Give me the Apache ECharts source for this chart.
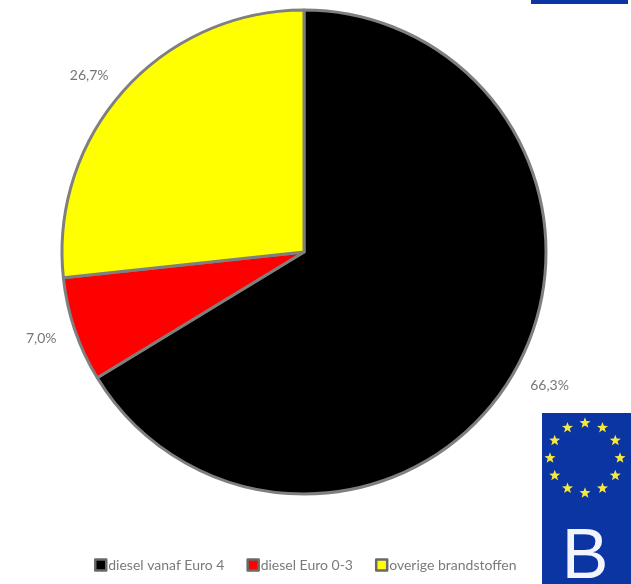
<!DOCTYPE html>
<html>
<head>
<meta charset="utf-8">
<style>html,body{margin:0;padding:0;background:#fff}#c{width:631px;height:584px}</style>
<script src="https://cdn.jsdelivr.net/npm/echarts@6/dist/echarts.min.js"></script>
</head>
<body>
<div id="c"></div>
<script>
// Share of vehicle kilometres by fuel class
const categories = ['diesel vanaf Euro 4', 'diesel Euro 0-3', 'overige brandstoffen'];
const shares = [66.3, 7.0, 26.7];
const sliceColors = ['#000000', '#ff0000', '#ffff00'];
const countryCode = 'B';

const BLUE = '#0a35a3';
const STAR = '#f6e83c';
const chart = echarts.init(document.getElementById('c'), null, { renderer: 'canvas' });

// Small nudges that keep each percentage clear of the pie edge
const labelNudge = [[-2, 8], [0, 4], [0, -5]];

// Five-pointed star outline around a centre point
function starPoints(cx, cy, r, r0) {
  const pts = [];
  for (let k = 0; k < 10; k++) {
    const rad = k % 2 ? r0 : r;
    const t = k * Math.PI / 5;
    pts.push([cx + rad * Math.sin(t), cy - rad * Math.cos(t)]);
  }
  return pts;
}

// Ring of twelve stars on the Euro plate
const stars = [];
for (let i = 0; i < 12; i++) {
  const a = i * Math.PI / 6;
  stars.push({
    type: 'polygon',
    shape: { points: starPoints(585 + 35 * Math.sin(a), 458 - 35 * Math.cos(a), 5.8, 2.4) },
    style: { fill: STAR },
    z: 11
  });
}

chart.setOption({
  animation: false,
  backgroundColor: '#ffffff',
  textStyle: { fontFamily: 'Lato' },
  legend: {
    left: 94,
    top: 558,
    padding: 0,
    itemWidth: 11,
    itemHeight: 11,
    itemGap: 22,
    icon: 'rect',
    selectedMode: false,
    itemStyle: { borderColor: '#6a6a6a', borderWidth: 2.5 },
    textStyle: { color: '#7a7a7a', fontSize: 14, fontFamily: 'Lato', padding: [0, 0, 0, -3] },
    data: categories
  },
  series: [{
    type: 'pie',
    center: [304, 252],
    radius: [0, 242],
    startAngle: 90,
    clockwise: true,
    avoidLabelOverlap: false,
    silent: true,
    itemStyle: { borderColor: '#7f7f7f', borderWidth: 3 },
    label: {
      show: true,
      position: 'outside',
      color: '#767676',
      fontSize: 14,
      fontFamily: 'Lato',
      formatter: p => p.value.toFixed(1).replace('.', ',') + '%'
    },
    labelLine: { show: false, length: 14, length2: 0 },
    labelLayout: p => ({ dx: labelNudge[p.dataIndex][0], dy: labelNudge[p.dataIndex][1] }),
    data: categories.map((name, i) => ({
      name,
      value: shares[i],
      itemStyle: { color: sliceColors[i] }
    }))
  }],
  graphic: [
    { type: 'rect', shape: { x: 531, y: 0, width: 97, height: 4 }, style: { fill: BLUE }, z: 10 },
    { type: 'rect', shape: { x: 542, y: 413, width: 89, height: 171 }, style: { fill: BLUE }, z: 10 },
    ...stars,
    {
      type: 'text',
      x: 585,
      y: 559,
      z: 11,
      style: {
        text: countryCode,
        fill: '#f2f5fb',
        font: '70px "Liberation Sans"',
        align: 'center',
        verticalAlign: 'middle'
      }
    }
  ]
});
</script>
</body>
</html>
